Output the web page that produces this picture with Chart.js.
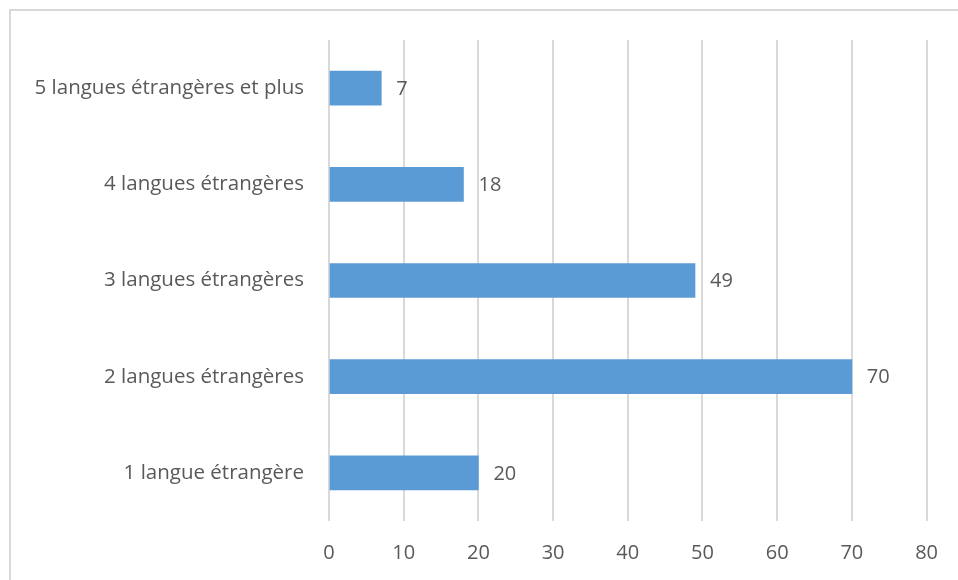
<!DOCTYPE html>
<html>
<head>
<meta charset="utf-8">
<script src="https://cdn.jsdelivr.net/npm/chart.js@4/dist/chart.umd.min.js"></script>
<style>
  html, body { margin: 0; padding: 0; background: #fff; overflow: hidden; }
  #frame { position: absolute; left: 9px; top: 9px; width: 1000px; height: 700px; border: 2px solid #d9d9d9; }
  #wrap { position: absolute; left: 0; top: 0; width: 958px; height: 580px; }
</style>
</head>
<body>
<div id="frame"></div>
<div id="wrap"><canvas id="chart" width="958" height="580"></canvas></div>
<script>
// categories, top to bottom
const categories = [
  "5 langues étrangères et plus",
  "4 langues étrangères",
  "3 langues étrangères",
  "2 langues étrangères",
  "1 langue étrangère"
];
const counts = [7, 18, 49, 70, 20];
const xTicks = [0, 10, 20, 30, 40, 50, 60, 70, 80];

const fontFam = "'Open Sans', 'Noto Sans', sans-serif";
const textCol = "#595959";

// value labels at the end of each bar
const valueLabels = {
  id: 'valueLabels',
  afterDatasetsDraw(chart) {
    const ctx = chart.ctx;
    const meta = chart.getDatasetMeta(0);
    ctx.save();
    ctx.font = "20px " + fontFam;
    ctx.fillStyle = textCol;
    ctx.textAlign = "left";
    ctx.textBaseline = "middle";
    meta.data.forEach(function(bar, i){
      ctx.fillText(String(counts[i]), bar.x + 15, bar.y + 1);
    });
    ctx.restore();
  }
};

new Chart(document.getElementById('chart'), {
  type: 'bar',
  data: {
    labels: categories,
    datasets: [{
      data: counts,
      backgroundColor: '#5b9bd5',
      borderWidth: 0,
      barThickness: 34
    }]
  },
  options: {
    indexAxis: 'y',
    responsive: false,
    animation: false,
    layout: { padding: { left: 0, right: 28, top: 40, bottom: 0 } },
    plugins: {
      legend: { display: false },
      tooltip: { enabled: false }
    },
    scales: {
      x: {
        min: 0,
        max: 80,
        afterBuildTicks(scale) {
          scale.ticks = xTicks.map(function(v){ return { value: v }; });
        },
        grid: { color: '#d9d9d9', lineWidth: 2, drawTicks: false },
        border: { display: false },
        ticks: {
          color: textCol,
          font: { family: fontFam, size: 20 },
          padding: 20
        },
        afterFit(scale) { scale.height = 59; }
      },
      y: {
        grid: { display: false, drawTicks: false },
        border: { display: false },
        ticks: {
          color: textCol,
          font: { family: fontFam, size: 20.5 },
          padding: 25
        },
        afterFit(scale) { scale.width = 329; }
      }
    }
  },
  plugins: [valueLabels]
});
</script>
</body>
</html>
